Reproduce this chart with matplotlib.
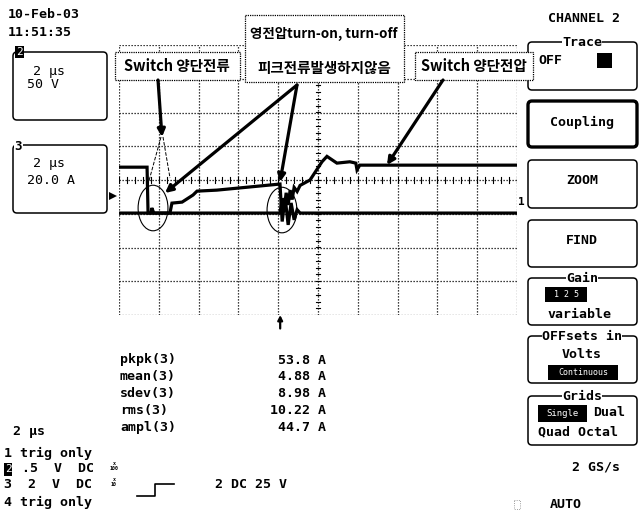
## Oscilloscope screen capture: switch voltage / current at turn-on, turn-off ##

import numpy as np
import matplotlib
matplotlib.use('Agg')
import matplotlib.pyplot as plt
from matplotlib.patches import FancyBboxPatch, Ellipse, Rectangle, Polygon

MONO = 'DejaVu Sans Mono'
KR = ['Noto Sans CJK KR', 'DejaVu Sans']

## Data

# channel 2: switch voltage, 50 V/div
v_time = [0, 1.41, 1.46, 8.09, 8.2, 8.3, 8.4, 8.5, 8.6, 8.7, 8.8, 8.95,
          9.1, 9.6, 10.2, 10.45, 10.95, 11.6, 11.9, 11.96, 12.1, 20]
v_volt = [68, 68, 0, 0, 22, 6, 30, 12, 34, 20, 38, 32,
          41, 49, 76, 84, 74, 76, 74, 64, 71, 71]

# channel 3: switch current, 20 A/div
i_time = [0, 1.6, 1.65, 1.75, 2.56, 2.66, 3.17, 3.72, 3.92, 4.92, 8.09,
          8.2, 8.35, 8.5, 8.65, 8.8, 8.95, 9.1, 20]
i_amp = [0, 0, 3, 0, 0, 5.9, 6.5, 10.7, 13, 13.6, 17.2,
         -5, 9, -7, 6, -4, 2, 0, 0]

v_per_div = 50
a_per_div = 20
zero_div = -0.98
trig_time = 8.1

meas_names = ['pkpk(3)', 'mean(3)', 'sdev(3)', 'rms(3)', 'ampl(3)']
meas_values = ['53.8 A', '4.88 A', '8.98 A', '10.22 A', '44.7 A']

# events circled on the screen: (time us, level div)
events = [(1.71, -0.83), (8.19, -0.89)]

## Figure

fig = plt.figure(figsize=(6.42, 5.13), dpi=100)
W, H = 642, 513

sc = fig.add_axes([119 / W, 1 - 315 / H, 398 / W, 270 / H], zorder=1)
sc.set_xlim(0, 20)
sc.set_ylim(-4, 4)
sc.axis('off')

# graticule
dot = dict(color='black', lw=0.9, linestyle=(0, (1, 1.4)))
for gx in range(0, 21, 2):
    sc.axvline(gx, **dot)
for gy in range(-4, 5):
    sc.axhline(gy, **dot)
for tx in np.arange(0, 20.01, 0.4):
    sc.plot([tx, tx], [-0.09, 0.09], color='black', lw=0.8)
for ty in np.arange(-4, 4.01, 0.2):
    sc.plot([9.9, 10.1], [ty, ty], color='black', lw=0.8)

# traces
sc.plot(v_time, np.array(v_volt) / v_per_div + zero_div, color='black', lw=2.3,
        solid_joinstyle='miter')
sc.plot(i_time, np.array(i_amp) / a_per_div + zero_div, color='black', lw=2.3,
        solid_joinstyle='miter')

for ex, ey in events:
    sc.add_patch(Ellipse((ex, ey), 1.5, 1.35, fill=False, lw=0.8, color='black'))

sc.annotate('', xy=(trig_time, 0), xycoords=('data', 'axes fraction'),
            xytext=(trig_time, -0.05), textcoords=('data', 'axes fraction'),
            arrowprops=dict(arrowstyle='-|>', lw=1.6, color='black', mutation_scale=7,
                            shrinkA=0, shrinkB=0), annotation_clip=False)

## overlay in screen pixels

ov = fig.add_axes([0, 0, 1, 1], zorder=2)
ov.set_xlim(0, W)
ov.set_ylim(H, 0)
ov.axis('off')
ov.patch.set_alpha(0)


def box(x0, y0, x1, y1, lw=1.1, ls='-', r=4):
    ov.add_patch(FancyBboxPatch((x0, y0), x1 - x0, y1 - y0,
                                boxstyle='round,pad=0,rounding_size=%d' % r,
                                fc='white', ec='black', lw=lw, ls=ls))


def mono(x, y, s, ha='left', size=9.5, **kw):
    kw.setdefault('weight', 'bold')
    ov.text(x, y, s, ha=ha, va='center', family=MONO, size=size, **kw)


def inv(x0, y0, x1, y1, s='', size=7):
    ov.add_patch(Rectangle((x0, y0), x1 - x0, y1 - y0, fc='black', ec='none'))
    if s:
        ov.text((x0 + x1) / 2, (y0 + y1) / 2, s, ha='center', va='center',
                family=MONO, size=size, color='white')


# top left
mono(8, 15, '10-Feb-03')
mono(8, 33, '11:51:35')

# channel boxes
box(13, 52, 107, 120)
inv(15, 46, 24, 58, '2', size=8)
mono(33, 71, '2 µs', weight='normal')
mono(27, 85, '50 V', weight='normal')
box(13, 145, 107, 213)
ov.text(18, 146, '3', ha='center', va='center', family=MONO, size=9, weight='bold',
        bbox=dict(fc='white', ec='none', pad=0.5))
mono(33, 163, '2 µs', weight='normal')
mono(27, 180, '20.0 A', weight='normal')

# scope markers
ov.add_patch(Polygon([[109, 192], [109, 200], [117, 196]], closed=True, fc='black'))
ov.text(521, 202, '1', ha='center', va='center', family=MONO, size=8, weight='bold')

# measurements
for k, (nm, val) in enumerate(zip(meas_names, meas_values)):
    mono(120, 360 + k * 16.8, nm)
    mono(326, 360 + k * 16.8, val, ha='right')

mono(13, 432, '2 µs')
mono(4, 453, '1 trig only')
inv(4, 463, 12, 476, '2', size=8)
mono(14, 469, ' .5  V  DC')
mono(4, 485, '3  2  V  DC')
mono(4, 502, '4 trig only')
ov.text(114, 466, 'x\n100', ha='center', va='center', family=MONO, size=3.6,
        weight='bold', linespacing=0.9)
ov.text(114, 482, 'x\n10', ha='center', va='center', family=MONO, size=3.6,
        weight='bold', linespacing=0.9)
ov.plot([137, 155, 155, 174], [496, 496, 484, 484], color='black', lw=1.2)
mono(215, 485, '2 DC 25 V')

# right menu
mono(548, 18, 'CHANNEL 2')

box(528, 42, 637, 90)
mono(582, 43, 'Trace', ha='center', bbox=dict(fc='white', ec='none', pad=0.3))
mono(538, 60, 'OFF')
inv(597, 53, 612, 68)

box(528, 101, 637, 147, lw=2.4)
mono(582, 122, 'Coupling', ha='center')

box(528, 160, 637, 208)
mono(582, 180, 'ZOOM', ha='center')

box(528, 220, 637, 267)
mono(582, 240, 'FIND', ha='center')

box(528, 278, 637, 325)
mono(582, 279, 'Gain', ha='center', bbox=dict(fc='white', ec='none', pad=0.3))
inv(545, 287, 587, 302, '1 2 5', size=6)
mono(547, 315, 'variable')

box(528, 336, 637, 383)
mono(582, 337, 'OFFsets in', ha='center', bbox=dict(fc='white', ec='none', pad=0.3))
mono(582, 355, 'Volts', ha='center')
inv(548, 365, 618, 380, 'Continuous', size=6)

box(528, 396, 637, 445)
mono(582, 397, 'Grids', ha='center', bbox=dict(fc='white', ec='none', pad=0.3))
inv(538, 405, 587, 422, 'Single', size=6.5)
mono(593, 413, 'Dual')
mono(538, 432, 'Quad Octal')

mono(620, 467, '2 GS/s', ha='right')
ov.add_patch(Rectangle((514, 500), 6, 9, fill=False, ec='0.5', lw=0.6, ls=':'))
mono(550, 505, 'AUTO')

# annotation boxes (Korean captions)
ann = dict(fc='white', ec='black', lw=0.9, ls=(0, (1, 0.8)))
ov.add_patch(Rectangle((115, 52), 125, 28, **ann))
ov.add_patch(Rectangle((245, 15), 159, 67, **ann))
ov.add_patch(Rectangle((415, 52), 118, 28, **ann))

kr = dict(ha='center', va='center', family=KR, weight='bold')
ov.text(177, 66, 'Switch 양단전류', size=10.5, **kr)
ov.text(324, 34, '영전압turn-on, turn-off', size=9.7, **kr)
ov.text(324, 68, '피크전류발생하지않음', size=10.5, **kr)
ov.text(474, 66, 'Switch 양단전압', size=10.5, **kr)

# dashed cone from first arrow to the first circled event
ov.plot([161, 147], [137, 188], color='black', lw=0.7, ls='--')
ov.plot([163, 170], [137, 178], color='black', lw=0.7, ls='--')

arr = dict(arrowstyle='-|>', lw=2.3, color='black', mutation_scale=11,
           shrinkA=0, shrinkB=0)
ov.annotate('', xy=(162, 137), xytext=(158, 80), arrowprops=arr)
ov.annotate('', xy=(165, 193), xytext=(297, 85), arrowprops=arr)
ov.annotate('', xy=(280, 182), xytext=(297, 85), arrowprops=arr)
ov.annotate('', xy=(387, 165), xytext=(443, 80), arrowprops=arr)

fig.savefig('out.png', dpi=100)
